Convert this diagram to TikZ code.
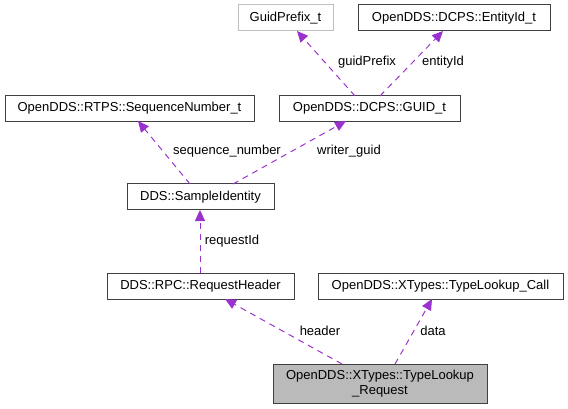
\documentclass[tikz,border=0pt]{standalone}
\usepackage{fontspec}
\setmainfont{Liberation Sans}
\usetikzlibrary{arrows.meta}
\definecolor{edgec}{HTML}{9A32CD}
\tikzset{
  cls/.style={draw=black!75, line width=1pt, fill=white, inner sep=0pt, font=\fontsize{13}{15}\selectfont},
  clsgrey/.style={cls, draw=black!25},
  dep/.style={draw=edgec, dashed, dash pattern=on 6pt off 5pt, line width=1pt, -{Triangle[length=11pt,width=10pt,fill=edgec]}},
  lbl/.style={font=\fontsize{13}{15}\selectfont, inner sep=1pt}
}
\begin{document}
\begin{tikzpicture}[x=1pt,y=-1pt]
\useasboundingbox (0,0) rectangle (568,409);
\node[clsgrey, minimum width=95pt, minimum height=26pt] (gp) at (285.5,18) {GuidPrefix\_t};
\node[cls, minimum width=192pt, minimum height=26pt] (eid) at (454,18) {OpenDDS::DCPS::EntityId\_t};
\node[cls, minimum width=181pt, minimum height=26pt] (guid) at (369.5,108.5) {OpenDDS::DCPS::GUID\_t};
\node[cls, minimum width=249pt, minimum height=26pt] (seq) at (129.5,108.5) {OpenDDS::RTPS::SequenceNumber\_t};
\node[cls, minimum width=147pt, minimum height=26pt] (sid) at (200.5,197) {DDS::SampleIdentity};
\node[cls, minimum width=187pt, minimum height=26pt] (rh) at (200.5,286) {DDS::RPC::RequestHeader};
\node[cls, minimum width=245pt, minimum height=26pt] (call) at (440.5,286.5) {OpenDDS::XTypes::TypeLookup\_Call};
\node[cls, fill=black!27, minimum width=214pt, minimum height=39pt, align=center] (req) at (380,383.5) {OpenDDS::XTypes::TypeLookup\\\_Request};

\coordinate (guidA) at (355,96);
\coordinate (guidB) at (380,96);
\coordinate (gpB) at (297,31);
\coordinate (eidB) at (443,31);
\draw[dep] (guidA) -- (gpB);
\draw[dep] (guidB) -- (eidB);
\node[lbl] (lgp) at (367,62) {guidPrefix};
\node[lbl] (leid) at (443,62) {entityId};

\coordinate (sidA) at (190,184);
\coordinate (sidB) at (233,184);
\coordinate (seqB) at (138,121);
\coordinate (guidC) at (346,121);
\draw[dep] (sidA) -- (seqB);
\draw[dep] (sidB) -- (guidC);
\node[lbl] (lseq) at (227,151) {sequence\_number};
\node[lbl] (lwg) at (349,151) {writer\_guid};

\coordinate (rhT) at (200,273);
\coordinate (sidC) at (200,210);
\draw[dep] (rhT) -- (sidC);
\node[lbl] (lrid) at (232,241) {requestId};

\coordinate (reqA) at (342,364);
\coordinate (reqB) at (395,364);
\coordinate (rhB) at (225,299);
\coordinate (callB) at (432,299);
\draw[dep] (reqA) -- (rhB);
\draw[dep] (reqB) -- (callB);
\node[lbl] (lhd) at (320,331) {header};
\node[lbl] (ldata) at (433,331) {data};
\end{tikzpicture}
\end{document}
